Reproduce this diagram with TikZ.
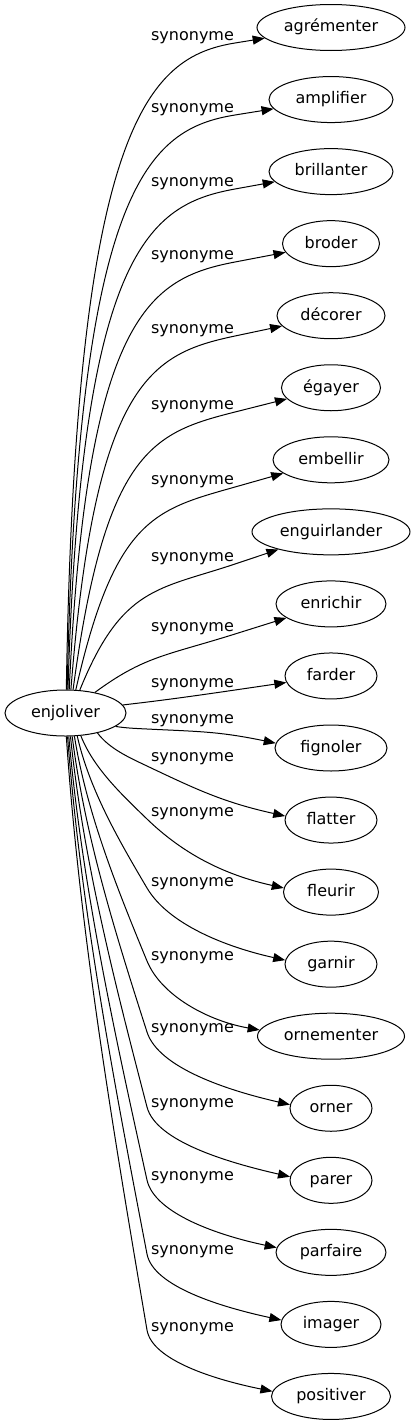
\documentclass[tikz,border=0pt]{standalone}
\usepackage{fontspec}
\setmainfont{DejaVu Sans}
\usetikzlibrary{arrows.meta,calc,shapes.geometric}
\begin{document}
\begin{tikzpicture}[x=1pt,y=-1pt,
  every node/.style={font=\fontsize{16pt}{18pt}\selectfont, text height=12pt, text depth=3.3pt},
  word/.style={ellipse, draw, line width=1pt, minimum height=46pt, inner sep=0pt},
  rel/.style={inner sep=0pt},
  link/.style={line width=1pt, -{Triangle[length=12pt,width=9pt]}}]
\useasboundingbox (0,0) rectangle (416,1427);
\node[word, minimum width=121pt] (e) at (65.5,713) {enjoliver};
\foreach \nm/\txt/\wid [count=\idx from 0] in {agr/agrémenter/148, amp/amplifier/124, bri/brillanter/124, bro/broder/97, dec/décorer/108, ega/égayer/99, emb/embellir/116, eng/enguirlander/158, enr/enrichir/110, far/farder/92, fig/fignoler/112, fla/flatter/92, fle/fleurir/95, gar/garnir/92, orn/ornementer/147, orr/orner/82, par/parer/82, pfa/parfaire/110, ima/imager/100, pos/positiver/119}
  \node[word, minimum width=\wid pt] (\nm) at (331,{27.5+72.05*\idx}) {\txt};
% upper edges
\foreach \nm/\ly/\ang [count=\idx from 0] in {agr/36/88, amp/108/86, bri/182/84, bro/255/81, dec/329/77, ega/405/72, emb/480/66, eng/557/58, enr/627/35, far/683/8}{
  \pgfmathsetmacro\vty{27.5+72.05*\idx}
  \pgfmathsetmacro\vca{cos(\ang)}
  \pgfmathsetmacro\vsa{sin(\ang)}
  \pgfmathsetmacro\vr{1/sqrt((\vca/60.5)*(\vca/60.5)+(\vsa/23)*(\vsa/23))}
  \pgfmathsetmacro\vsx{65.5+\vr*\vca}
  \pgfmathsetmacro\vsy{713-\vr*\vsa}
  \pgfmathsetmacro\vwy{\ly+7}
  \pgfmathsetmacro\vm{0.85*abs(\vsy-\vwy)+0.1*(235-\vsx)}
  \pgfmathsetmacro\vax{\vsx+\vm*\vca*\vca+0.05*(235-\vsx)}
  \pgfmathsetmacro\vay{\vsy-\vm*\vsa}
  \pgfmathsetmacro\vL{0.52*(235-\vsx)}
  \pgfmathsetmacro\vdy{(\vty-\vwy)/100}
  \pgfmathsetmacro\vdd{100*sqrt(0.9216+\vdy*\vdy)}
  \pgfmathsetmacro\vbx{235-\vL*96/\vdd}
  \pgfmathsetmacro\vby{\vwy-\vL*\vdy*100/\vdd}
  \node[rel] (l\nm) at (192.5,\ly) {synonyme};
  \draw[link] (e.\ang) .. controls (\vax,\vay) and (\vbx,\vby) .. (235,\vwy) -- (\nm);
}
% lower edges
\foreach \nm/\ly/\ang/\wid/\dl [count=\idx from 10] in {fig/719/-15/112/10, fla/757/-32/92/9, fle/812/-56/95/7, gar/882/-63/92/6, orn/956/-69/147/5, orr/1028/-74/82/4, par/1103/-78/82/4, pfa/1176/-82/110/4, ima/1250/-85/100/4, pos/1327/-88/119/3}{
  \pgfmathsetmacro\vty{27.5+72.05*\idx}
  \pgfmathsetmacro\vca{cos(\ang)}
  \pgfmathsetmacro\vsa{sin(\ang)}
  \pgfmathsetmacro\vr{1/sqrt((\vca/60.5)*(\vca/60.5)+(\vsa/23)*(\vsa/23))}
  \pgfmathsetmacro\vsx{65.5+\vr*\vca}
  \pgfmathsetmacro\vsy{713-\vr*\vsa}
  \pgfmathsetmacro\vwy{\ly+\dl}
  \pgfmathsetmacro\vcx{(147-\vsx)/100}
  \pgfmathsetmacro\vcy{(\vwy-\vsy)/100}
  \pgfmathsetmacro\vL{100*sqrt(\vcx*\vcx+\vcy*\vcy)}
  \pgfmathsetmacro\vn{sqrt(0.25*\vcx*\vcx+\vcy*\vcy)}
  \pgfmathsetmacro\vax{\vsx+0.33*\vL*0.5*\vcx/\vn}
  \pgfmathsetmacro\vay{\vsy+0.33*\vL*\vcy/\vn}
  \pgfmathsetmacro\vk{sqrt((\vcx+0.2)*(\vcx+0.2)+\vcy*\vcy)}
  \pgfmathsetmacro\vux{(\vcx+0.2)/\vk}
  \pgfmathsetmacro\vuy{\vcy/\vk}
  \pgfmathsetmacro\vbx{147-0.33*\vL*\vux}
  \pgfmathsetmacro\vby{\vwy-0.33*\vL*\vuy}
  \pgfmathsetmacro\vtx{331-\wid/2+2}
  \pgfmathsetmacro\vtyy{\vty-5}
  \pgfmathsetmacro\vqq{min(0.5*(\vtyy-\vwy)/\vuy,0.4*(\vtx-147))}
  \pgfmathsetmacro\vqx{147+\vqq*\vux}
  \pgfmathsetmacro\vqy{\vwy+\vqq*\vuy}
  \pgfmathsetmacro\vgx{\vtx-0.45*(\vtx-147)}
  \pgfmathsetmacro\vgy{\vtyy-0.09*(\vtx-147)}
  \node[rel] (l\nm) at (192.5,\ly) {synonyme};
  \draw[link] (e.\ang) .. controls (\vax,\vay) and (\vbx,\vby) .. (147,\vwy) .. controls (\vqx,\vqy) and (\vgx,\vgy) .. (\nm.175);
}
\end{tikzpicture}
\end{document}
